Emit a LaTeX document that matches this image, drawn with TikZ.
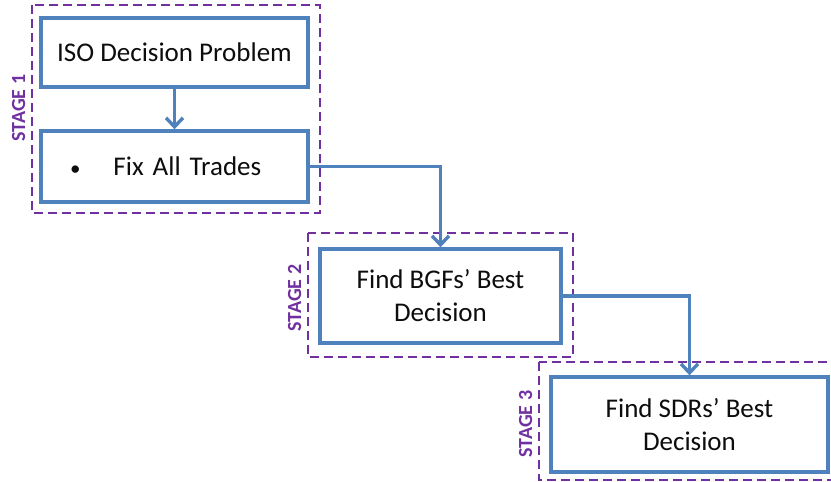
\documentclass[tikz,border=0pt]{standalone}
\usepackage{fontspec}
\setmainfont{Carlito}
\usetikzlibrary{arrows.meta}

\definecolor{boxblue}{HTML}{4F81BD}
\definecolor{stagepurple}{HTML}{7030A0}

\tikzset{
  stepbox/.style={draw=boxblue, line width=3.4pt, fill=white, rectangle,
    inner sep=0pt, align=center, text=black!95,
    font=\fontsize{27}{33}\selectfont},
  stageframe/.style={draw=stagepurple, line width=1.6pt, dash pattern=on 9pt off 5pt},
  stagelabel/.style={text=stagepurple, rotate=90, anchor=base, inner sep=0pt,
    font=\fontsize{20}{24}\selectfont\bfseries},
  flow/.style={draw=boxblue, line width=3.4pt,
    -{Straight Barb[length=9pt,width=17pt,line width=3.4pt]}},
}

\begin{document}
\begin{tikzpicture}[x=1pt, y=-1pt]
  \useasboundingbox (0,0) rectangle (831,482);

  % stage frames
  \draw[stageframe] (32,5) rectangle (320,213);
  \draw[stageframe] (308,233) rectangle (573,357);
  \draw[stageframe] (539,362) rectangle (845,480);

  % stage labels
  \node[stagelabel] (lab1) at (25,108) {STAGE 1};
  \node[stagelabel] (lab2) at (301,298) {STAGE 2};
  \node[stagelabel] (lab3) at (532,424) {STAGE 3};

  % process boxes
  \node[stepbox, minimum width=267pt, minimum height=69pt] (iso) at (174.5,52.5)
    {ISO Decision Problem};
  \node[stepbox, minimum height=71pt, text width=267pt, align=left] (fix) at (174.5,166.5)
    {\hspace*{29pt}{\fontsize{21}{24}\selectfont\textbullet}\hspace{33pt}Fix All Trades};
  \node[stepbox, minimum width=241pt, minimum height=94pt] (bgf) at (440.5,296)
    {Find BGFs’ Best\\Decision};
  \node[stepbox, minimum width=277pt, minimum height=95pt] (sdr) at (689.5,424.5)
    {Find SDRs’ Best\\Decision};

  % connectors
  \draw[flow] (iso.south) -- (fix.north);
  \draw[flow] (fix.east) -| (bgf.north);
  \draw[flow] (bgf.east) -| (sdr.north);
\end{tikzpicture}
\end{document}
